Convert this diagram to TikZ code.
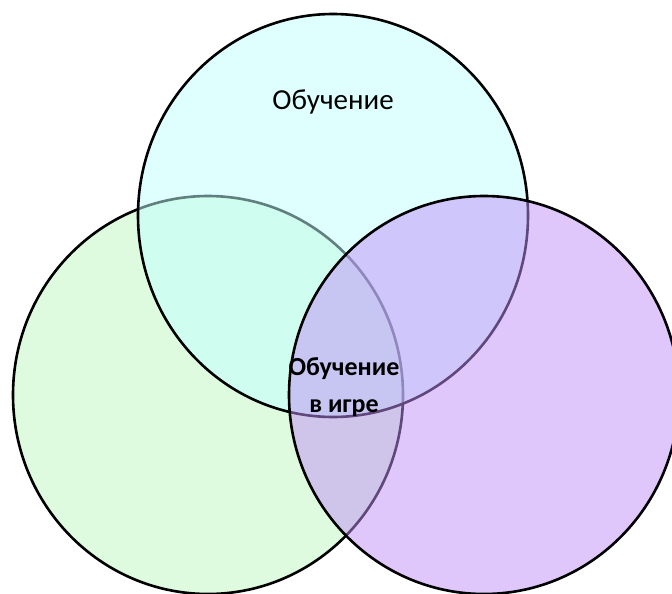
\documentclass[tikz,border=0pt]{standalone}
\usepackage{fontspec}
\setmainfont{Carlito}
\begin{document}
\begin{tikzpicture}[x=1pt,y=-1pt,
  venn/.style={draw=black,line width=2.6pt,fill opacity=0.5},
  label/.style={font=\fontsize{29}{33}\selectfont,align=center,inner sep=0pt}]
\useasboundingbox (0,0) rectangle (672,594);
\clip (0,0) rectangle (672,594);
\definecolor{greenset}{HTML}{C0F8C0}
\definecolor{cyanset}{HTML}{C0FFFF}
\definecolor{purpleset}{HTML}{C090F8}
% three overlapping sets, lower ones showing through the upper fills
\fill[white] (0,0) rectangle (672,594);
\draw[venn,fill=greenset]  (208,395) ellipse [x radius=195, y radius=199];
\draw[venn,fill=cyanset]   (333,215.5) ellipse [x radius=195, y radius=201.5];
\draw[venn,fill=purpleset] (484,395) ellipse [x radius=195, y radius=199];
% labels
\node[label] (top) at (333,102) {Обучение};
\node[label,font=\fontsize{26}{37}\selectfont\bfseries] (mid) at (344,387) {Обучение\\в игре};
\end{tikzpicture}
\end{document}
